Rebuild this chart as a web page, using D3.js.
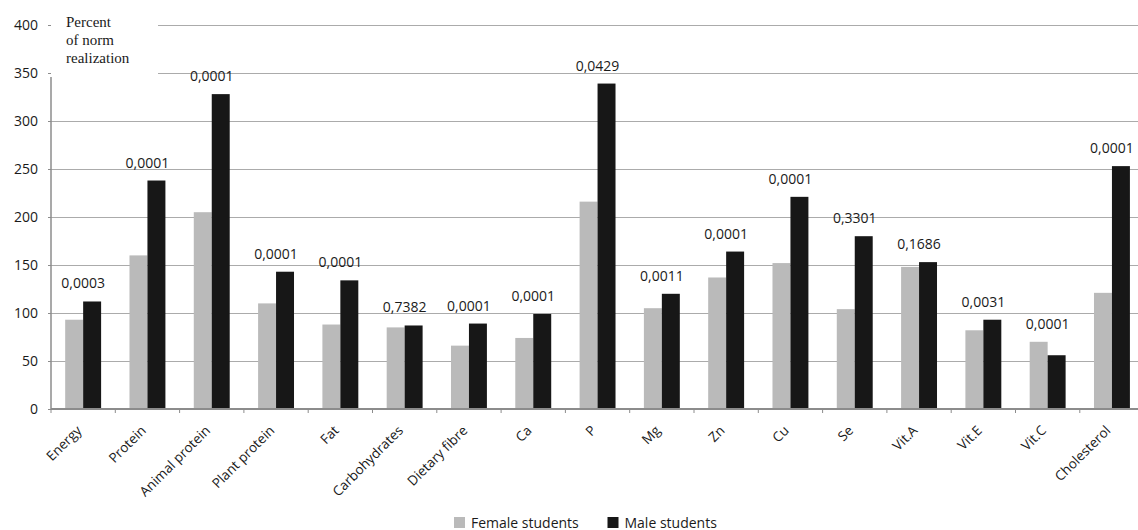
<!DOCTYPE html>
<html>
<head>
<meta charset="utf-8">
<script src="https://cdn.jsdelivr.net/npm/d3@7"></script>
<style>
  body { margin: 0; background: #fff; }
  text { font-family: "Open Sans", sans-serif; fill: #1a1a1a; }
  .title-text { font-family: "Liberation Serif", "Times New Roman", serif; font-size: 15px; }
</style>
</head>
<body>
<div id="chart"></div>
<script>
// Data
let categories = ["Energy", "Protein", "Animal protein", "Plant protein", "Fat", "Carbohydrates",
    "Dietary fibre", "Ca", "P", "Mg", "Zn", "Cu", "Se", "Vit.A", "Vit.E", "Vit.C", "Cholesterol"];
let female = [93, 160, 205, 110, 88, 85, 66, 74, 216, 105, 137, 152, 104, 148, 82, 70, 121];
let male = [112, 238, 328, 143, 134, 87, 89, 99, 339, 120, 164, 221, 180, 153, 93, 56, 253];
let pValues = ["0,0003", "0,0001", "0,0001", "0,0001", "0,0001", "0,7382", "0,0001", "0,0001",
    "0,0429", "0,0011", "0,0001", "0,0001", "0,3301", "0,1686", "0,0031", "0,0001", "0,0001"];
let seriesNames = ["Female students", "Male students"];
let seriesColors = ["#bababa", "#171717"];
let yTicks = [0, 50, 100, 150, 200, 250, 300, 350, 400];

let chartW = 1138, chartH = 530;
let plotLeft = 51, plotBottom = 409, plotTop = 25;

let svg = d3.select("#chart").append("svg")
    .attr("width", chartW)
    .attr("height", chartH);

// Scales
let y = d3.scaleLinear().domain([0, 400]).range([plotBottom, plotTop]);
let x = d3.scaleBand().domain(categories).range([plotLeft, plotLeft + 17 * 64.3]).padding(0);
let x1 = d3.scaleBand().domain([0, 1]).range([0, x.bandwidth()]).paddingInner(0).paddingOuter(0.79);

// Gridlines
svg.append("g")
    .selectAll("line")
    .data(yTicks.slice(1))
    .enter().append("line")
    .attr("x1", plotLeft).attr("x2", chartW)
    .attr("y1", d => Math.round(y(d)) + 0.5).attr("y2", d => Math.round(y(d)) + 0.5)
    .attr("stroke", "#ababab")
    .attr("stroke-width", 1.2);

// Bars
let rows = categories.map((c, i) => ({cat: c, vals: [female[i], male[i]], p: pValues[i]}));

let groups = svg.append("g").selectAll("g")
    .data(rows)
    .enter().append("g")
    .attr("transform", d => `translate(${x(d.cat)},0)`);

groups.selectAll("rect")
    .data(d => d.vals.map((v, k) => ({k: k, v: v})))
    .enter().append("rect")
    .attr("x", d => x1(d.k))
    .attr("y", d => y(d.v))
    .attr("width", x1.bandwidth())
    .attr("height", d => plotBottom - y(d.v))
    .attr("fill", d => seriesColors[d.k]);

// p-value labels
groups.append("text")
    .attr("x", x.bandwidth() / 2)
    .attr("y", d => y(d3.max(d.vals)) - 13)
    .attr("text-anchor", "middle")
    .style("font-size", "14px")
    .text(d => d.p);

// White box behind the axis title (hides the top gridlines there)
svg.append("rect")
    .attr("x", 45).attr("y", 0)
    .attr("width", 113).attr("height", 76)
    .attr("fill", "#fff");

let titleLines = ["Percent", "of norm", "realization"];
svg.append("g").selectAll("text")
    .data(titleLines)
    .enter().append("text")
    .attr("class", "title-text")
    .attr("x", 66)
    .attr("y", (d, i) => 27 + i * 18)
    .text(d => d);

// Y axis
let yAxis = d3.axisLeft(y).tickValues(yTicks).tickSize(3).tickPadding(10);
let yAxisGroup = svg.append("g")
    .attr("class", "y-axis")
    .attr("transform", `translate(${plotLeft},0)`)
    .call(yAxis);
yAxisGroup.select(".domain").remove();
yAxisGroup.selectAll(".tick line").attr("stroke", "#8c8c8c");
yAxisGroup.selectAll("text").style("font-size", "14px").attr("fill", "#1a1a1a");
yAxisGroup.append("line")
    .attr("x1", 0).attr("x2", 0)
    .attr("y1", 77).attr("y2", plotBottom)
    .attr("stroke", "#8c8c8c").attr("stroke-width", 1.5);

// X axis
let xAxis = d3.axisBottom(x).tickSize(0).tickPadding(0);
let xAxisGroup = svg.append("g")
    .attr("class", "x-axis")
    .attr("transform", `translate(0,${plotBottom})`)
    .call(xAxis);
xAxisGroup.select(".domain").remove();
xAxisGroup.selectAll("text")
    .attr("y", 0).attr("dy", "0.35em")
    .attr("transform", "translate(-4,19) rotate(-45)")
    .style("text-anchor", "end")
    .style("font-size", "13.5px")
    .attr("fill", "#1a1a1a");

xAxisGroup.append("line")
    .attr("x1", plotLeft).attr("x2", chartW)
    .attr("y1", 0).attr("y2", 0)
    .attr("stroke", "#8c8c8c").attr("stroke-width", 2);

xAxisGroup.selectAll(".band-tick")
    .data(categories)
    .enter().append("line")
    .attr("class", "band-tick")
    .attr("x1", d => x(d)).attr("x2", d => x(d))
    .attr("y1", 0).attr("y2", 4)
    .attr("stroke", "#8c8c8c");

// Legend
let legend = svg.append("g").attr("transform", "translate(454,517)");
let items = legend.selectAll("g")
    .data(seriesNames)
    .enter().append("g")
    .attr("transform", (d, i) => `translate(${i * 153.5},0)`);
items.append("rect")
    .attr("width", 11).attr("height", 11)
    .attr("fill", (d, i) => seriesColors[i]);
items.append("text")
    .attr("x", 17).attr("y", 10.5)
    .style("font-size", "14px")
    .text(d => d);
</script>
</body>
</html>
